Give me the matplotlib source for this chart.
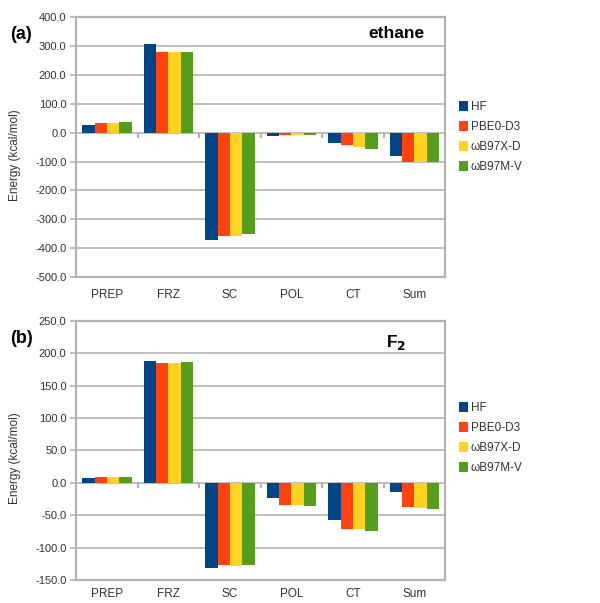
import numpy as np
import matplotlib
matplotlib.use("Agg")
import matplotlib.pyplot as plt

plt.rcParams['font.family'] = ['Liberation Sans', 'DejaVu Sans']

categories = ["PREP", "FRZ", "SC", "POL", "CT", "Sum"]
methods = ["HF", "PBE0-D3", "ωB97X-D", "ωB97M-V"]
colors = ["#004586", "#ff420e", "#ffd320", "#579d1c"]

# (a) ethane, kcal/mol
ethane_hf = [28, 307, -371, -10, -35, -80]
ethane_pbe0 = [33, 279, -360, -9, -43, -100]
ethane_wb97xd = [34, 279, -358, -7, -48, -100]
ethane_wb97mv = [36, 280, -351, -8, -58, -101]

# (b) F2, kcal/mol
f2_hf = [8, 188, -131, -24, -57, -14.5]
f2_pbe0 = [9, 185, -126.5, -34.5, -70.5, -38]
f2_wb97xd = [9, 185.5, -128, -34.5, -71.5, -38.5]
f2_wb97mv = [9, 186.5, -126.5, -35.5, -74, -40]

grid_col = "#b3b3b3"
text_col = "#333333"


def draw_panel(ax, series, ymin, ymax, step, panel_label, title, title_xy,
               legend_y, xpad):
    x = np.arange(len(categories))
    w = 0.2
    for i, (vals, c, name) in enumerate(zip(series, colors, methods)):
        ax.bar(x + (i - 1.5) * w, vals, width=w, color=c, label=name, zorder=3,
               linewidth=0)
    ax.set_xlim(-0.5, len(categories) - 0.5)
    ax.set_ylim(ymin, ymax)
    ticks = np.arange(ymin, ymax + step / 2, step)
    ax.set_yticks(ticks)
    ax.set_yticklabels([f"{t:.1f}" for t in ticks], fontsize=8, color=text_col)
    ax.yaxis.grid(True, color=grid_col, linewidth=1.2, zorder=0)
    ax.set_axisbelow(True)
    ax.tick_params(axis='y', length=4, width=1.2, color=grid_col, pad=3)
    ax.set_xticks(x)
    ax.set_xticklabels(categories, fontsize=8.5, color=text_col)
    ax.tick_params(axis='x', length=0, pad=xpad)
    for s in ax.spines.values():
        s.set_color(grid_col)
        s.set_linewidth(1.6)
    # small category separators on the zero line
    d = 0.02 * (ymax - ymin)
    ax.vlines(x[:-1] + 0.5, -d, 0, color=grid_col, linewidth=1.6, zorder=2)
    ax.set_ylabel("Energy (kcal/mol)", fontsize=8.5, color=text_col)
    ax.yaxis.set_label_coords(-0.15, 0.47)
    ax.text(title_xy[0], title_xy[1], title, transform=ax.transAxes,
            fontsize=12.5, fontweight='bold', ha='right', va='center')
    fig.text(0.017, ax.get_position().y1 - 0.029, panel_label, fontsize=13,
             fontweight='bold', ha='left', va='center')
    fig.legend(*ax.get_legend_handles_labels(), loc='center left',
               bbox_to_anchor=(0.755, legend_y), frameon=False, fontsize=8.5,
               handlelength=0.75, handleheight=0.9, handletextpad=0.25,
               labelspacing=0.68, borderpad=0, labelcolor=text_col)


fig = plt.figure(figsize=(6, 6.03), dpi=100)
ax1 = fig.add_axes([0.127, 0.541, 0.615, 0.430])
ax2 = fig.add_axes([0.127, 0.038, 0.615, 0.430])

draw_panel(ax1, [ethane_hf, ethane_pbe0, ethane_wb97xd, ethane_wb97mv],
           -500, 400, 100, "(a)", "ethane", (0.943, 0.94), 0.773, 8.5)
draw_panel(ax2, [f2_hf, f2_pbe0, f2_wb97xd, f2_wb97mv],
           -150, 250, 50, "(b)", "F$_\\mathbf{2}$", (0.895, 0.915), 0.274, 6)

fig.savefig("out.png", dpi=100)
